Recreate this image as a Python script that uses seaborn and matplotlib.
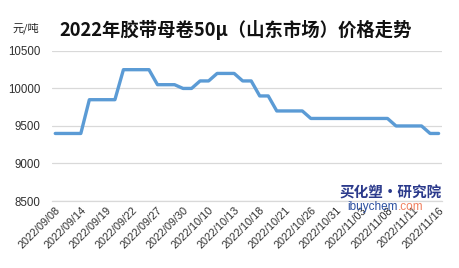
import matplotlib
matplotlib.use("Agg")
import matplotlib.pyplot as plt
import seaborn as sns
import pandas as pd
from matplotlib.transforms import offset_copy

dates = [
    "2022/09/08", "2022/09/09", "2022/09/13", "2022/09/14", "2022/09/15", "2022/09/16",
    "2022/09/19", "2022/09/20", "2022/09/21", "2022/09/22", "2022/09/23", "2022/09/26",
    "2022/09/27", "2022/09/28", "2022/09/29", "2022/09/30", "2022/10/08", "2022/10/09",
    "2022/10/10", "2022/10/11", "2022/10/12", "2022/10/13", "2022/10/14", "2022/10/17",
    "2022/10/18", "2022/10/19", "2022/10/20", "2022/10/21", "2022/10/24", "2022/10/25",
    "2022/10/26", "2022/10/27", "2022/10/28", "2022/10/31", "2022/11/01", "2022/11/02",
    "2022/11/03", "2022/11/04", "2022/11/07", "2022/11/08", "2022/11/09", "2022/11/10",
    "2022/11/11", "2022/11/14", "2022/11/15", "2022/11/16",
]
prices = [
    9400, 9400, 9400, 9400, 9850, 9850, 9850, 9850, 10250, 10250, 10250, 10250,
    10050, 10050, 10050, 10000, 10000, 10100, 10100, 10200, 10200, 10200, 10100, 10100,
    9900, 9900, 9700, 9700, 9700, 9700, 9600, 9600, 9600, 9600, 9600, 9600,
    9600, 9600, 9600, 9600, 9500, 9500, 9500, 9500, 9400, 9400,
]
y_ticks = [8500, 9000, 9500, 10000, 10500]
title = "2022年胶带母卷50μ（山东市场）价格走势"
unit = "元/吨"

sns.set_theme(style="white")
plt.rcParams["font.family"] = ["Noto Sans CJK SC", "DejaVu Sans"]

df = pd.DataFrame({"date": dates, "price": prices})
df["pos"] = range(len(df))

fig = plt.figure(figsize=(4.59, 2.68), dpi=100)
ax = fig.add_axes([0.113, 0.25, 0.85, 0.56])

sns.lineplot(data=df, x="pos", y="price", ax=ax, color="#5B9BD5", linewidth=2.4, sort=False)

ax.set_ylim(8500, 10500)
ax.set_yticks(y_ticks)
ax.set_yticklabels([str(v) for v in y_ticks], fontsize=8.3, color="#303030", family=["Liberation Sans", "DejaVu Sans"])
ax.set_xlim(-0.4, len(dates) - 0.6)
tick_pos = list(range(0, len(dates), 3))
ax.set_xticks(tick_pos)
ax.set_xticklabels([dates[i] for i in tick_pos], rotation=45, ha="right", rotation_mode="anchor",
                   fontsize=7.8, color="#303030", family=["Liberation Sans", "DejaVu Sans"])
ax.tick_params(axis="y", length=0, pad=8)
ax.tick_params(axis="x", length=0, pad=3)
ax.set_xlabel("")
ax.set_ylabel("")
ax.yaxis.grid(True, color="#D9D9D9", linewidth=0.9)
ax.xaxis.grid(False)
for s in ["left", "right", "top"]:
    ax.spines[s].set_visible(False)
ax.spines["bottom"].set_color("#D9D9D9")
ax.spines["bottom"].set_linewidth(0.9)

fig.text(0.514, 0.888, title, ha="center", va="center", fontsize=13.2, fontweight="bold", color="#111111")
fig.text(0.028, 0.895, unit, ha="left", va="center", fontsize=8, color="#222222")

fig.text(0.852, 0.28, "买化塑·研究院", ha="center", va="center", fontsize=10.5, fontweight="bold",
         style="italic", color="#2B3A8C")
t1 = fig.text(0.756, 0.226, "ibuychem", ha="left", va="center", fontsize=8.5, color="#2B4FA0",
              family=["Liberation Sans", "DejaVu Sans"])
fig.canvas.draw()
bb = t1.get_window_extent()
x_end = bb.x1 / fig.bbox.width
fig.text(x_end, 0.226, ".com", ha="left", va="center", fontsize=8.5, color="#F08060",
         family=["Liberation Sans", "DejaVu Sans"])

fig.savefig("out.png", dpi=100)
